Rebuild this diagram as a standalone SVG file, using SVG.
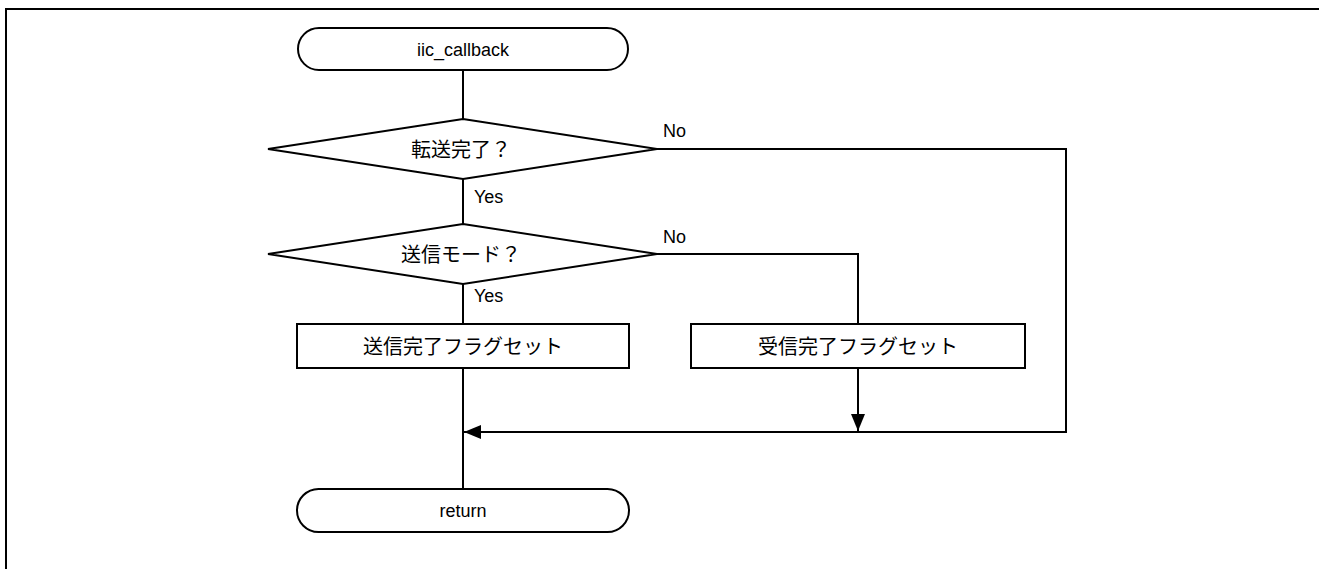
<svg xmlns="http://www.w3.org/2000/svg" width="1319" height="569" viewBox="0 0 1319 569">
<defs>
<style>
.s{fill:#fff;stroke:#000;stroke-width:2}
.c{fill:none;stroke:#000;stroke-width:2}
.t{font-family:"Liberation Sans",Arial,"Noto Sans CJK JP",sans-serif;font-size:18px;fill:#000}
.j{font-family:"Noto Sans CJK JP","Liberation Sans",sans-serif;font-size:20px;fill:#000}
.m{text-anchor:middle}
</style>
<marker id="ah" markerWidth="18" markerHeight="14" refX="17" refY="7" orient="auto" markerUnits="userSpaceOnUse">
<path d="M0,0 L17,7 L0,14 Z" fill="#000"/>
</marker>
</defs>
<rect width="1319" height="569" fill="#fff"/>
<path d="M6,580 L6,9 L1330,9" fill="none" stroke="#000" stroke-width="2"/>
<g id="connectors">
<path class="c" d="M463,71 L463,119"/>
<path class="c" d="M463,179 L463,224"/>
<path class="c" d="M463,284 L463,324"/>
<path class="c" d="M463,368 L463,488"/>
<path class="c" d="M657,149 L1066,149 L1066,432 L464,432" marker-end="url(#ah)"/>
<path class="c" d="M657,254 L858,254 L858,324"/>
<path class="c" d="M858,368 L858,431" marker-end="url(#ah)"/>
<text class="t" x="663" y="137">No</text>
<text class="t" x="663" y="243">No</text>
<text class="t" x="474" y="203">Yes</text>
<text class="t" x="474" y="302">Yes</text>
</g>
<g id="start">
<rect class="s" x="298" y="28" width="330" height="42" rx="21"/>
<text class="t m" x="463" y="56">iic_callback</text>
</g>
<g id="d1">
<path class="s" d="M463,119 L657,149 L463,179 L268,149 Z"/>
<text class="j m" x="461" y="157">転送完了？</text>
</g>
<g id="d2">
<path class="s" d="M463,224 L657,254 L463,284 L268,254 Z"/>
<text class="j m" x="461" y="262">送信モード？</text>
</g>
<g id="p1">
<rect class="s" x="297" y="324" width="332" height="44"/>
<text class="j m" x="463" y="354">送信完了フラグセット</text>
</g>
<g id="p2">
<rect class="s" x="691" y="324" width="334" height="44"/>
<text class="j m" x="858" y="354">受信完了フラグセット</text>
</g>
<g id="end">
<rect class="s" x="297" y="489" width="332" height="43" rx="21.5"/>
<text class="t m" x="463" y="517">return</text>
</g>
</svg>
